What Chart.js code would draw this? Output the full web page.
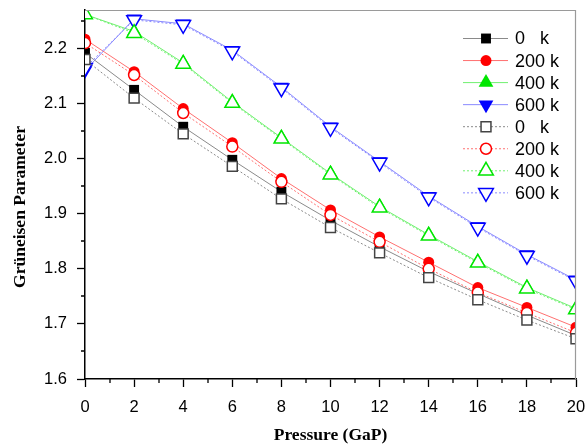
<!DOCTYPE html>
<html><head><meta charset="utf-8">
<script src="https://cdn.jsdelivr.net/npm/chart.js@4/dist/chart.umd.min.js"></script>
<style>html,body{margin:0;padding:0;background:#fff}</style>
</head><body>
<canvas id="c" width="588" height="444"></canvas>
<script>
const pressure = [0, 2, 4, 6, 8, 10, 12, 14, 16, 18, 20];
const seriesLabels = ['0   k', '200 k', '400 k', '600 k'];
const xTitle = 'Pressure (GaP)';
const yTitle = 'Grüneisen Parameter';
const solid0   = [2.192, 2.125, 2.058, 1.998, 1.940, 1.888, 1.840, 1.795, 1.755, 1.716, 1.679];
const solid200 = [2.217, 2.158, 2.091, 2.029, 1.964, 1.907, 1.858, 1.812, 1.766, 1.730, 1.694];
const solid400 = [2.262, 2.231, 2.174, 2.103, 2.038, 1.973, 1.913, 1.862, 1.813, 1.766, 1.728];
const solid600 = [2.160, 2.254, 2.245, 2.197, 2.130, 2.058, 1.995, 1.932, 1.877, 1.826, 1.780];
const dot0   = [2.180, 2.110, 2.045, 1.986, 1.927, 1.875, 1.829, 1.784, 1.744, 1.707, 1.673];
const dot200 = [2.210, 2.152, 2.083, 2.022, 1.958, 1.898, 1.849, 1.800, 1.757, 1.720, 1.684];
const dot400 = [2.262, 2.228, 2.172, 2.101, 2.036, 1.971, 1.911, 1.860, 1.811, 1.764, 1.726];
const dot600 = [2.165, 2.252, 2.243, 2.195, 2.128, 2.056, 1.993, 1.930, 1.875, 1.824, 1.778];

const toXY = arr => arr.map((v, i) => ({x: pressure[i], y: v}));

const styles = [
  {line: '#8a8a8a', mark: '#000000', open: '#444444', ps: 'rect', r: 7, rot: 0},
  {line: '#ff7070', mark: '#ff0000', open: '#ff0000', ps: 'circle', r: 5.5, rot: 0},
  {line: '#70f070', mark: '#00e600', open: '#00e600', ps: 'triangle', r: 8.5, rot: 0},
  {line: '#8a8aff', mark: '#0000ff', open: '#0000ff', ps: 'triangle', r: 8.5, rot: 180}
];
const solids = [solid0, solid200, solid400, solid600];
const dots = [dot0, dot200, dot400, dot600];

const datasets = [];
solids.forEach((arr, i) => {
  const s = styles[i];
  datasets.push({
    label: seriesLabels[i], data: toXY(arr), order: 2, clip: 0,
    borderColor: s.line, borderWidth: 1, tension: 0, fill: false,
    pointStyle: s.ps, pointRadius: s.r, pointRotation: s.rot,
    pointBackgroundColor: s.mark, pointBorderColor: s.mark, pointBorderWidth: 0,
    _legend: {dash: [], fill: s.mark, stroke: s.mark, bw: 0}
  });
});
dots.forEach((arr, i) => {
  const s = styles[i];
  datasets.push({
    label: seriesLabels[i], data: toXY(arr), order: 1, clip: 0,
    borderColor: s.line, borderWidth: 1, borderDash: [2, 2], tension: 0, fill: false,
    pointStyle: s.ps, pointRadius: s.r, pointRotation: s.rot,
    pointBackgroundColor: '#ffffff', pointBorderColor: s.open, pointBorderWidth: 1.5,
    _legend: {dash: [2, 2], fill: '#ffffff', stroke: s.open, bw: 1.5}
  });
});

const extras = {
  id: 'extras',
  afterDatasetsDraw(chart) {
    const ctx = chart.ctx, a = chart.chartArea;
    ctx.save();
    ctx.strokeStyle = '#9a9a9a'; ctx.lineWidth = 1.2;
    ctx.beginPath();
    ctx.moveTo(a.left, a.top + 0.5); ctx.lineTo(a.right, a.top + 0.5);
    ctx.moveTo(a.right - 0.5, a.top); ctx.lineTo(a.right - 0.5, a.bottom);
    ctx.stroke();
    ctx.restore();
  },
  afterDraw(chart) {
    const ctx = chart.ctx, a = chart.chartArea;
    const xs = chart.scales.x, ys = chart.scales.y;
    ctx.save();
    // minor ticks
    ctx.strokeStyle = '#000'; ctx.lineWidth = 1.3;
    ctx.beginPath();
    for (let v = 1; v < 20; v += 2) {
      const px = Math.round(xs.getPixelForValue(v));
      ctx.moveTo(px, a.bottom); ctx.lineTo(px, a.bottom + 4);
    }
    for (let v = 1.65; v < 2.27; v += 0.1) {
      const py = Math.round(ys.getPixelForValue(v));
      ctx.moveTo(a.left, py); ctx.lineTo(a.left - 4, py);
    }
    ctx.stroke();
    // axis titles
    ctx.fillStyle = '#000';
    ctx.font = 'bold 17.5px "Liberation Serif", "Times New Roman", serif';
    ctx.textAlign = 'center'; ctx.textBaseline = 'middle';
    ctx.fillText(xTitle, (a.left + a.right) / 2, 435);
    ctx.translate(20, 207);
    ctx.rotate(-Math.PI / 2);
    ctx.fillText(yTitle, 0, 0);
    ctx.restore();
    // legend
    ctx.save();
    ctx.font = '18px "Liberation Sans", Arial, sans-serif';
    ctx.textBaseline = 'middle'; ctx.textAlign = 'left';
    chart.data.datasets.forEach((d, i) => {
      const y = 38.5 + i * 22.05;
      const L = d._legend;
      ctx.strokeStyle = d.borderColor; ctx.lineWidth = 1;
      ctx.setLineDash(L.dash);
      ctx.beginPath(); ctx.moveTo(463, y); ctx.lineTo(508, y); ctx.stroke();
      ctx.setLineDash([]);
      ctx.fillStyle = L.fill; ctx.strokeStyle = L.stroke; ctx.lineWidth = L.bw;
      Chart.helpers.drawPoint(ctx, {pointStyle: d.pointStyle, radius: d.pointRadius, rotation: d.pointRotation, borderWidth: L.bw}, 486, y);
      ctx.fillStyle = '#000';
      ctx.fillText(d.label, 515, y + 1);
    });
    ctx.restore();
  }
};

new Chart(document.getElementById('c'), {
  type: 'line',
  data: {datasets},
  options: {
    responsive: false, animation: false, devicePixelRatio: 1,
    layout: {padding: {top: 9, right: 12, left: 0, bottom: 0}},
    plugins: {legend: {display: false}, tooltip: {enabled: false}},
    scales: {
      x: {
        type: 'linear', min: 0, max: 20,
        afterFit: s => { s.height = 65; s.paddingLeft = 0; s.paddingRight = 0; s.paddingTop = 0; s.paddingBottom = 0; },
        ticks: {stepSize: 2, padding: 11, color: '#000', font: {family: '"Liberation Sans", Arial, sans-serif', size: 16.5}, maxRotation: 0},
        grid: {display: true, drawOnChartArea: false, tickLength: 8, tickColor: '#000', tickWidth: 1.3},
        border: {display: true, color: '#000', width: 1.5}
      },
      y: {
        type: 'linear', min: 1.6, max: 2.27,
        afterFit: s => { s.width = 85; s.paddingTop = 0; s.paddingBottom = 0; s.paddingLeft = 0; s.paddingRight = 0; },
        ticks: {stepSize: 0.1, includeBounds: false, padding: 10, color: '#000', font: {family: '"Liberation Sans", Arial, sans-serif', size: 16.5},
          callback: v => Number(v).toFixed(1)},
        grid: {display: true, drawOnChartArea: false, tickLength: 8, tickColor: '#000', tickWidth: 1.3},
        border: {display: true, color: '#000', width: 1.5}
      }
    }
  },
  plugins: [extras]
});
</script>
</body></html>
